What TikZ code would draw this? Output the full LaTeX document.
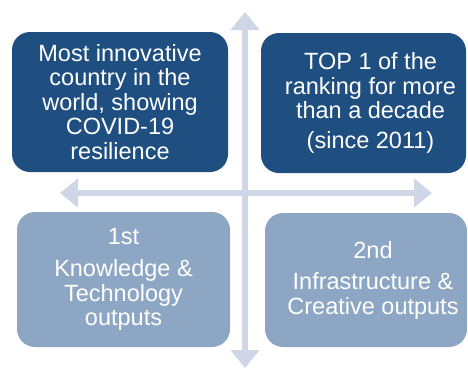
\documentclass[tikz,border=0pt]{standalone}
\usepackage{fontspec}
\setmainfont{Liberation Sans}
\usetikzlibrary{arrows.meta}
\definecolor{darkblue}{RGB}{31,78,128}
\definecolor{greyblue}{RGB}{141,166,196}
\definecolor{axisgrey}{RGB}{207,214,232}

\begin{document}
\begin{tikzpicture}[x=1pt, y=-1pt,
  every node/.style = {shape=rectangle, rounded corners=18pt,
    align=center, text=white, inner sep=0pt,
    font=\fontsize{23.5}{24.5}\selectfont},
  dark box/.style = {fill=darkblue},
  light box/.style = {fill=greyblue},
  axis/.style = {draw=axisgrey, line width=6pt,
    {Triangle[width=28pt,length=18pt]}-{Triangle[width=28pt,length=18pt]}}]
  \useasboundingbox (0,0) rectangle (468,372);
  % quadrants
  \node[dark box, minimum width=216pt, minimum height=140pt] (topleft) at (120,102)
    {Most innovative\\country in the\\world, showing\\COVID-19\\resilience};
  \node[dark box, minimum width=205pt, minimum height=140pt,
    label={[xshift=7pt]center:{TOP 1 of the\\ranking for more\\than a decade\\[5pt](since 2011)}}]
    (topright) at (363.5,103) {};
  \node[light box, minimum width=213pt, minimum height=135pt] (botleft) at (123.5,279.5)
    {1st\\[8pt]Knowledge \&\\Technology\\outputs};
  \node[light box, minimum width=202pt, minimum height=134pt,
    label={[xshift=7pt]center:{2nd\\[7pt]Infrastructure \&\\Creative outputs}}]
    (botright) at (366,280) {};
  % axes
  \coordinate (north) at (245,12);
  \coordinate (south) at (245,368);
  \coordinate (west) at (60,193);
  \coordinate (east) at (432,193);
  \draw[axis] (south) -- (north);
  \draw[axis] (west) -- (east);
\end{tikzpicture}
\end{document}
